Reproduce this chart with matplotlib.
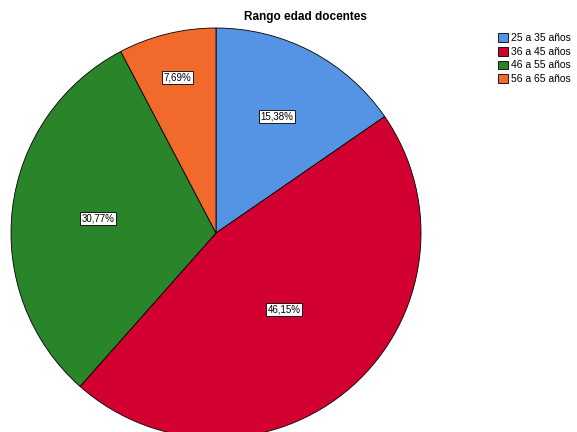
import numpy as np
import matplotlib.pyplot as plt

plt.rcParams['font.family'] = ['Liberation Sans', 'DejaVu Sans']

categories = ["25 a 35 años", "36 a 45 años", "46 a 55 años", "56 a 65 años"]
counts = [2, 6, 4, 1]
colors = ["#5594e4", "#d20030", "#2a842a", "#f2692c"]
# how far out each percentage label sits, as a fraction of the radius
label_dist = [0.64, 0.50, 0.58, 0.78]

fig = plt.figure(figsize=(5.77, 4.32), dpi=100)
ax = fig.add_axes([11 / 577, -6 / 432, 410 / 577, 410 / 432])

wedges, _ = ax.pie(counts, colors=colors, startangle=90, counterclock=False,
                   wedgeprops=dict(edgecolor="black", linewidth=0.6))

total = sum(counts)
for w, c, d in zip(wedges, counts, label_dist):
    ang = np.deg2rad((w.theta1 + w.theta2) / 2)
    pct = f"{100 * c / total:.2f}".replace(".", ",") + "%"
    ax.text(d * np.cos(ang), d * np.sin(ang), pct, ha="center", va="center",
            fontsize=7,
            bbox=dict(boxstyle="square,pad=0.15", fc="white", ec="black", lw=0.6))

ax.set_xlim(-1, 1)
ax.set_ylim(-1, 1)

fig.text(305 / 577, 1 - 17 / 432, "Rango edad docentes", ha="center", va="center",
         fontsize=8.5, fontweight="bold")

fig.legend(wedges, categories, loc="upper left", bbox_to_anchor=(494 / 577, 1 - 29 / 432),
           frameon=False, fontsize=7.5, handlelength=0.9, handleheight=0.9,
           handletextpad=0.3, labelspacing=0.35, borderaxespad=0)

fig.savefig("out.png", dpi=100)
